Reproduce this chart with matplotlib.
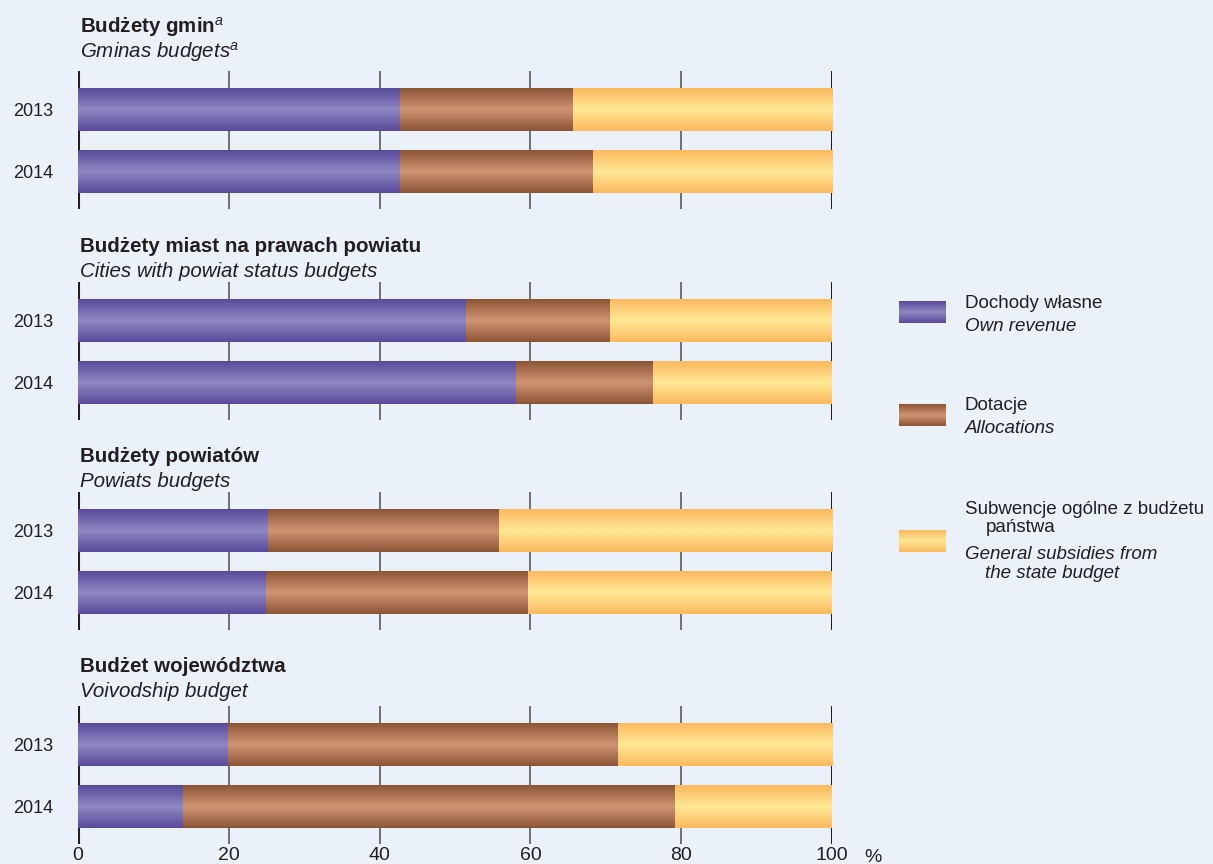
import numpy as np
import matplotlib.pyplot as plt
from matplotlib.colors import LinearSegmentedColormap

# data (% of total revenue)
titles_pl = ['Budżety gmin$^{a}$', 'Budżety miast na prawach powiatu',
             'Budżety powiatów', 'Budżet województwa']
titles_en = ['Gminas budgets$^{a}$', 'Cities with powiat status budgets',
             'Powiats budgets', 'Voivodship budget']
years = ['2013', '2014']
own_revenue = [[42.7, 42.7], [51.5, 58.1], [25.2, 24.9], [19.9, 13.9]]
allocations = [[22.9, 25.6], [19.1, 18.2], [30.6, 34.8], [51.7, 65.3]]
subsidies = [[34.4, 31.7], [29.4, 23.7], [44.2, 40.3], [28.4, 20.8]]
xticks = [0, 20, 40, 60, 80, 100]

bg = '#eaf1f9'
ink = '#231f20'
plt.rcParams['font.family'] = ['Liberation Sans', 'DejaVu Sans']
plt.rcParams['mathtext.fontset'] = 'custom'
plt.rcParams['mathtext.it'] = 'Liberation Sans:italic'
plt.rcParams['mathtext.rm'] = 'Liberation Sans'

# (edge colour, centre colour) of the shaded bars
shades = [('#5a4a9c', '#8e88c2'), ('#8c5636', '#d09472'), ('#fbba5e', '#ffe796')]


def make_cmap(edge, mid):
    return LinearSegmentedColormap.from_list('g', [edge, mid, edge])


cmaps = [make_cmap(*s) for s in shades]
grad = np.linspace(0, 1, 64).reshape(-1, 1)

W, H = 1213, 864
fig = plt.figure(figsize=(W / 100, H / 100), dpi=100, facecolor=bg)

tops = [71, 282, 492, 706]
ax_h = 138
x0, x1 = 78, 832
bar_h = 0.685

for p in range(4):
    ax = fig.add_axes([x0 / W, 1 - (tops[p] + ax_h) / H, (x1 - x0) / W, ax_h / H])
    ax.patch.set_alpha(0)
    for xt in xticks:
        edge = xt in (0, 100)
        ax.axvline(xt, color=ink if edge else '#707070',
                   lw=2.2 if edge else 1.4, zorder=1)
    series = [own_revenue[p], allocations[p], subsidies[p]]
    for i in range(len(years)):
        left = 0
        for s, vals in enumerate(series):
            ax.imshow(grad, cmap=cmaps[s], aspect='auto', interpolation='bilinear',
                      extent=[left, left + vals[i], i + bar_h / 2, i - bar_h / 2],
                      zorder=2)
            left += vals[i]
    ax.set_xlim(0, 100)
    ax.set_ylim(1.6, -0.625)
    ax.set_yticks(range(len(years)))
    ax.set_yticklabels(years, fontsize=13, color=ink)
    ax.tick_params(axis='y', length=0, pad=18)
    ax.set_xticks(xticks)
    if p == 3:
        ax.tick_params(axis='x', length=0, pad=2, labelsize=14, labelcolor=ink)
    else:
        ax.tick_params(axis='x', length=0, labelbottom=False)
    for sp in ax.spines.values():
        sp.set_visible(False)

# overlay in pixel coordinates for titles and legend
ov = fig.add_axes([0, 0, 1, 1])
ov.axis('off')
ov.patch.set_alpha(0)

bold_y = [33, 252, 462, 672]
ital_y = [58, 277, 487, 697]
for p in range(4):
    ov.text(80, bold_y[p], titles_pl[p], fontsize=14.8, fontweight='bold',
            color=ink, va='baseline')
    ov.text(80, ital_y[p], titles_en[p], fontsize=14.8, style='italic',
            color=ink, va='baseline')

ov.text(864, 862, '%', fontsize=14, color=ink, va='baseline')

# legend
leg_y = [301, 404, 530]
for s in range(3):
    ov.imshow(grad, cmap=cmaps[s], aspect='auto', interpolation='bilinear',
              extent=[899, 946, leg_y[s] + 22, leg_y[s]])
ov.set_xlim(0, W)
ov.set_ylim(H, 0)

leg_lines = [
    (965, 308, 'Dochody własne', 'normal'),
    (965, 331, 'Own revenue', 'italic'),
    (965, 410, 'Dotacje', 'normal'),
    (965, 433, 'Allocations', 'italic'),
    (965, 514, 'Subwencje ogólne z budżetu', 'normal'),
    (986, 532, 'państwa', 'normal'),
    (965, 559, 'General subsidies from', 'italic'),
    (985, 578, 'the state budget', 'italic'),
]
for x, y, t, st in leg_lines:
    ov.text(x, y, t, fontsize=13.5, style=st, color=ink, va='baseline')

fig.savefig('out.png', dpi=100, facecolor=bg)
